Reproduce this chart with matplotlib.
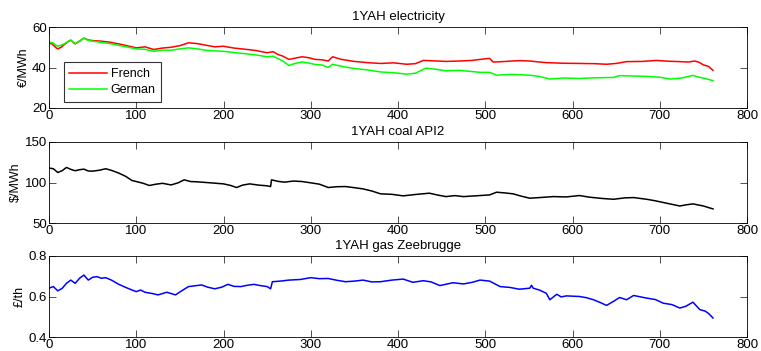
import matplotlib
matplotlib.use("Agg")
import matplotlib.pyplot as plt

plt.rcParams['font.family'] = ['Liberation Sans', 'DejaVu Sans']

# ---- data ----
fr_x = [0, 3, 5, 8, 10, 14, 18, 22, 25, 28, 30, 35, 40, 45, 50, 60, 70, 85, 100, 110, 120, 130, 140, 150, 160, 170, 180, 190, 200, 212, 225, 237, 250, 257, 262, 268, 275, 282, 290, 298, 305, 313, 320, 325, 335, 350, 365, 380,
        395, 410, 420, 429, 440, 455, 470, 485, 494, 500, 505, 509, 520, 530, 540, 551, 560, 570, 590, 608, 625, 639, 650, 662, 680, 696, 710, 723, 733, 740, 745, 750, 756, 761]
fr_y = [51.7, 51.9, 51.0, 49.8, 49.2, 50.0, 51.5, 52.8, 53.5, 52.3, 51.7, 53.0, 54.5, 53.6, 53.3, 53.0, 52.5, 51.2, 49.7, 50.2, 48.9, 49.6, 50.0, 50.8, 52.2, 51.8, 51.0, 50.2, 50.5, 49.6, 49.0, 48.4, 47.3, 47.8, 46.5, 45.6, 44.0, 44.6, 45.3, 44.8, 44.0, 43.8, 43.2, 45.3, 44.0, 43.0, 42.4, 42.0,
        42.3, 41.6, 41.9, 43.5, 43.3, 43.0, 43.2, 43.5, 44.0, 44.3, 44.5, 42.7, 42.9, 43.2, 43.4, 43.2, 42.8, 42.4, 42.1, 42.0, 41.9, 41.6, 42.0, 42.9, 43.0, 43.5, 43.1, 42.9, 42.7, 43.2, 42.6, 41.3, 40.5, 38.6]
de_x = [0, 3, 5, 8, 10, 14, 18, 22, 25, 28, 30, 35, 40, 45, 50, 60, 70, 85, 100, 110, 120, 130, 140, 150, 160, 170, 180, 190, 200, 212, 225, 237, 250, 257, 262, 268, 275, 282, 290, 298, 305, 313, 320, 325, 335, 350, 365, 380,
        395, 410, 420, 432, 442, 455, 470, 485, 494, 505, 513, 530, 551, 562, 574, 590, 608, 625, 647, 654, 670, 685, 700, 712, 725, 738, 745, 752, 761]
de_y = [52.5, 52.3, 52.0, 51.0, 50.5, 51.0, 51.8, 52.9, 53.5, 52.4, 51.7, 53.0, 54.5, 53.4, 53.0, 52.4, 51.8, 50.5, 49.2, 49.0, 48.0, 48.6, 48.5, 49.2, 49.7, 49.2, 48.5, 48.2, 48.0, 47.4, 46.8, 46.2, 45.3, 45.6, 44.5, 43.2, 41.0, 42.0, 42.7, 42.2, 41.5, 41.2, 40.0, 41.6, 40.6, 39.5, 38.8, 37.8,
        37.4, 36.7, 37.2, 39.7, 39.2, 38.4, 38.6, 38.0, 37.6, 37.6, 36.2, 36.6, 36.2, 35.6, 34.3, 34.8, 34.6, 34.9, 35.1, 36.0, 35.8, 35.6, 35.2, 34.3, 34.8, 36.1, 35.2, 34.6, 33.5]

coal_x = [0, 5, 10, 15, 20, 25, 30, 35, 40, 45, 50, 58, 65, 72, 80, 88, 95, 100, 108, 115, 122, 130, 140, 148, 155, 162, 170, 185, 200, 208, 215, 222, 230, 240, 250, 254, 255, 262, 270, 280, 290, 300, 310, 320, 330, 340, 350, 360, 370, 380,
          393, 406, 420, 436, 445, 455, 465, 475, 490, 505, 513, 522, 532, 541, 551, 565, 578, 593, 608, 620, 635, 647, 660, 670, 685, 695, 708, 723, 730, 738, 750, 761]
coal_y = [117.8, 117.0, 112.4, 114.5, 118.6, 116.2, 114.5, 115.8, 116.5, 114.2, 114.0, 115.2, 117.0, 114.8, 111.6, 107.5, 102.5, 101.2, 99.0, 96.3, 97.8, 99.0, 97.0, 99.6, 103.3, 101.2, 100.8, 99.6, 98.3, 96.4, 93.8, 96.8, 98.3, 96.8, 95.9, 95.0, 103.3, 101.5, 100.4, 101.8, 101.2, 99.6, 97.9, 93.8, 94.8, 95.0, 93.6, 92.1, 89.5, 86.0,
          85.4, 83.5, 85.2, 86.8, 84.6, 82.6, 83.8, 82.6, 83.6, 84.7, 88.0, 87.2, 86.0, 83.2, 80.6, 81.6, 82.6, 82.2, 83.9, 81.8, 80.2, 79.3, 81.0, 81.4, 79.3, 77.4, 74.4, 71.0, 72.4, 73.6, 71.0, 67.4]

gas_x = [0, 5, 10, 15, 20, 25, 30, 35, 40, 45, 50, 55, 60, 65, 72, 80, 90, 100, 105, 110, 118, 125, 135, 145, 152, 160, 175, 182, 190, 198, 205, 212, 220, 228, 235, 242, 250, 254, 256, 265, 275, 288, 300, 310, 320, 330, 340, 350, 360, 370, 380,
         393, 406, 417, 429, 438, 448, 463, 475, 485, 494, 505, 517, 528, 539, 551, 553, 555, 562, 570, 574, 582, 587, 593, 608, 616, 624, 632, 639, 647, 654, 662, 670, 685, 695, 704, 714, 723, 730, 738, 746, 752, 756, 761]
gas_y = [0.641, 0.649, 0.628, 0.640, 0.665, 0.681, 0.665, 0.690, 0.706, 0.681, 0.695, 0.698, 0.690, 0.693, 0.680, 0.660, 0.641, 0.624, 0.632, 0.621, 0.615, 0.608, 0.621, 0.608, 0.628, 0.649, 0.657, 0.646, 0.638, 0.646, 0.660, 0.650, 0.649, 0.656, 0.660, 0.654, 0.649, 0.638, 0.673, 0.676, 0.681, 0.684, 0.693, 0.688, 0.689, 0.680, 0.673, 0.676, 0.681, 0.672, 0.673,
         0.681, 0.686, 0.670, 0.678, 0.672, 0.654, 0.668, 0.662, 0.670, 0.681, 0.676, 0.649, 0.645, 0.636, 0.641, 0.655, 0.641, 0.632, 0.616, 0.584, 0.611, 0.598, 0.603, 0.600, 0.594, 0.584, 0.570, 0.556, 0.576, 0.595, 0.584, 0.605, 0.592, 0.585, 0.567, 0.560, 0.543, 0.552, 0.572, 0.535, 0.528, 0.516, 0.494]

xticks = [0, 100, 200, 300, 400, 500, 600, 700, 800]
titles = ['1YAH electricity', '1YAH coal API2', '1YAH gas Zeebrugge']
ylabels = ['€/MWh', '$/MWh', '£/th']
yticks_list = [[20, 40, 60], [50, 100, 150], [0.4, 0.6, 0.8]]
ytick_labels = [['20', '40', '60'], ['50', '100', '150'], ['0.4', '0.6', '0.8']]

W, H = 761, 351
fig = plt.figure(figsize=(W / 100, H / 100), dpi=100)
fig.patch.set_facecolor('white')

boxes = [(27, 108), (142, 223), (256, 337)]
left, right = 49, 747
axes = []
for (t, b) in boxes:
    ax = fig.add_axes([left / W, 1 - b / H, (right - left) / W, (b - t) / H])
    axes.append(ax)

ax = axes[0]
ax.plot(fr_x, fr_y, color='#ff0000', lw=1.1, label='French')
ax.plot(de_x, de_y, color='#00ff00', lw=1.1, label='German')
leg = ax.legend(loc='lower left', bbox_to_anchor=(0.021, 0.074), fontsize=9, frameon=True,
                fancybox=False, edgecolor='black', handlelength=3.0, borderpad=0.45,
                labelspacing=0.35, handletextpad=0.3, borderaxespad=0.0)
leg.get_frame().set_linewidth(0.8)

axes[1].plot(coal_x, coal_y, color='black', lw=1.1)
axes[2].plot(gas_x, gas_y, color='#0000ff', lw=1.1)

for i, ax in enumerate(axes):
    ax.set_xlim(0, 800)
    ax.set_ylim(yticks_list[i][0], yticks_list[i][-1])
    ax.set_xticks(xticks)
    ax.set_xticklabels([str(v) for v in xticks])
    ax.set_yticks(yticks_list[i])
    ax.set_yticklabels(ytick_labels[i])
    ax.tick_params(direction='in', top=True, right=True, length=5, width=0.6,
                   labelsize=9.5, pad=1.5, color='#333333')
    ax.set_title(titles[i], fontsize=9.5, pad=5)
    ax.set_ylabel(ylabels[i], fontsize=9, labelpad=2)
    for s in ax.spines.values():
        s.set_linewidth(0.6)

fig.savefig('out.png', dpi=100, facecolor='white')
